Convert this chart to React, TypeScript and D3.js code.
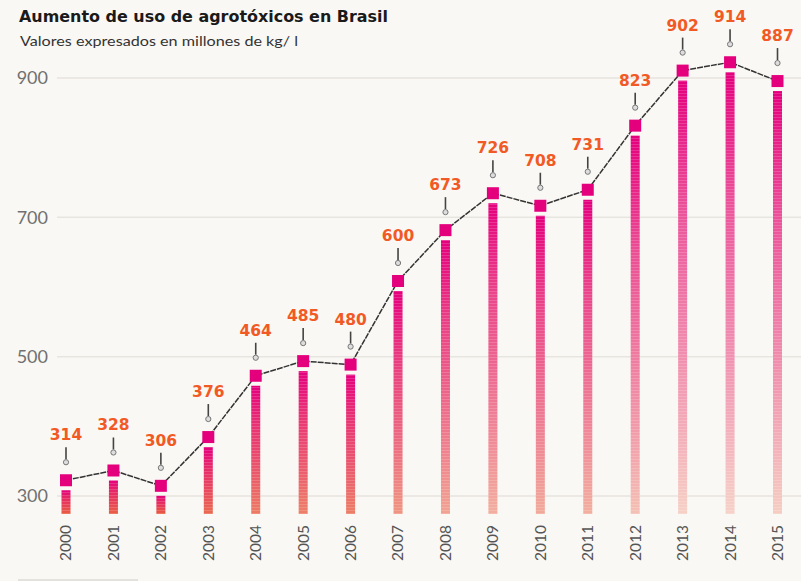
import React from "react";
import * as d3 from "d3";

const years = ["2000","2001","2002","2003","2004","2005","2006","2007","2008","2009","2010","2011","2012","2013","2014","2015"];
const values = [314, 328, 306, 376, 464, 485, 480, 600, 673, 726, 708, 731, 823, 902, 914, 887];
const yTicks = [300, 500, 700, 900];
const title = "Aumento de uso de agrotóxicos en Brasil";
const subtitle = "Valores expresados en millones de kg/ l";

const W = 801, H = 581;
const BG = "#faf8f4";
const MAGENTA = "#e4007d";
const ORANGE = "#f15a24";

export default function App() {
  const x = d3.scalePoint<string>().domain(years).range([66, 777.5]);
  const y = d3.scaleLinear().domain([300, 900]).range([496, 78]);
  const baseY = 514;
  const markerOffset = -6;
  const mk = 12;
  const barW = 9;
  const maxH = baseY - (y(d3.max(values)!) + markerOffset + mk / 2 + 4);
  const line = d3.line<number>()
    .x((_, i) => x(years[i])!)
    .y((v) => y(v) + markerOffset);
  const font = "Lato, 'Open Sans', sans-serif";
  const bold = "'DejaVu Sans', sans-serif";

  return (
    <svg width={W} height={H} style={{ position: "absolute", left: 0, top: 0 }} fontFamily={font}>
      <defs>
        <pattern id="stripes" patternUnits="userSpaceOnUse" width={10} height={3}>
          <rect x={0} y={0} width={10} height={1} fill="#ffffff" opacity={0.16} />
        </pattern>
        {values.map((v, i) => {
          const top = y(v) + markerOffset + mk / 2 + 4;
          const t = (baseY - top) / maxH;
          const bottom = d3.interpolateRgb("#e8573a", "#f6d2c8")(t);
          const mid = d3.interpolateRgb(MAGENTA, bottom)(0.4);
          return (
            <linearGradient key={i} id={`g${i}`} x1={0} y1={0} x2={0} y2={1}>
              <stop offset="0" stopColor={MAGENTA} />
              <stop offset="0.3" stopColor={mid} />
              <stop offset="1" stopColor={bottom} />
            </linearGradient>
          );
        })}
      </defs>
      <rect x={0} y={0} width={W} height={H} fill={BG} />

      <text x={19} y={22} fontSize={16} fontWeight="bold" fontFamily={bold} fill="#1a1a1a" textLength={369} lengthAdjust="spacingAndGlyphs">{title}</text>
      <text x={20} y={46} fontSize={13.5} fill="#333" textLength={278} lengthAdjust="spacingAndGlyphs">{subtitle}</text>

      {yTicks.map((t) => (
        <g key={t}>
          <line x1={57} x2={W} y1={y(t)} y2={y(t)} stroke="#e7e5e0" strokeWidth={1.5} />
          <text x={48} y={y(t)} dy="0.35em" textAnchor="end" fontSize={18} fill="#707070">{t}</text>
        </g>
      ))}

      {values.map((v, i) => {
        const cx = x(years[i])!;
        const top = y(v) + markerOffset + mk / 2 + 4;
        return (
          <g key={i}>
            <rect x={cx - barW / 2} y={top} width={barW} height={baseY - top} fill={`url(#g${i})`} />
            <rect x={cx - barW / 2} y={top} width={barW} height={baseY - top} fill="url(#stripes)" />
          </g>
        );
      })}

      <path d={line(values)!} fill="none" stroke="#333" strokeWidth={1.5} strokeDasharray="6,1" />

      {values.map((v, i) => {
        const cx = x(years[i])!;
        const my = y(v) + markerOffset;
        return (
          <g key={i}>
            <rect x={cx - mk / 2} y={my - mk / 2} width={mk} height={mk} fill={MAGENTA} />
            <line x1={cx} x2={cx} y1={my - 33} y2={my - 21} stroke="#444" strokeWidth={1.6} />
            <circle cx={cx} cy={my - 18} r={2.6} fill="#ddd" stroke="#777" strokeWidth={1} />
            <text x={cx} y={my - 40} textAnchor="middle" fontSize={15.5} fontWeight="bold" fontFamily={bold} fill={ORANGE}>{v}</text>
            <text transform={`translate(${cx},525) rotate(-90)`} dy="0.35em" textAnchor="end" fontSize={15.5} fill="#555">{years[i]}</text>
          </g>
        );
      })}

      <line x1={18} x2={138} y1={580} y2={580} stroke="#dddbd6" strokeWidth={1.5} />
    </svg>
  );
}
